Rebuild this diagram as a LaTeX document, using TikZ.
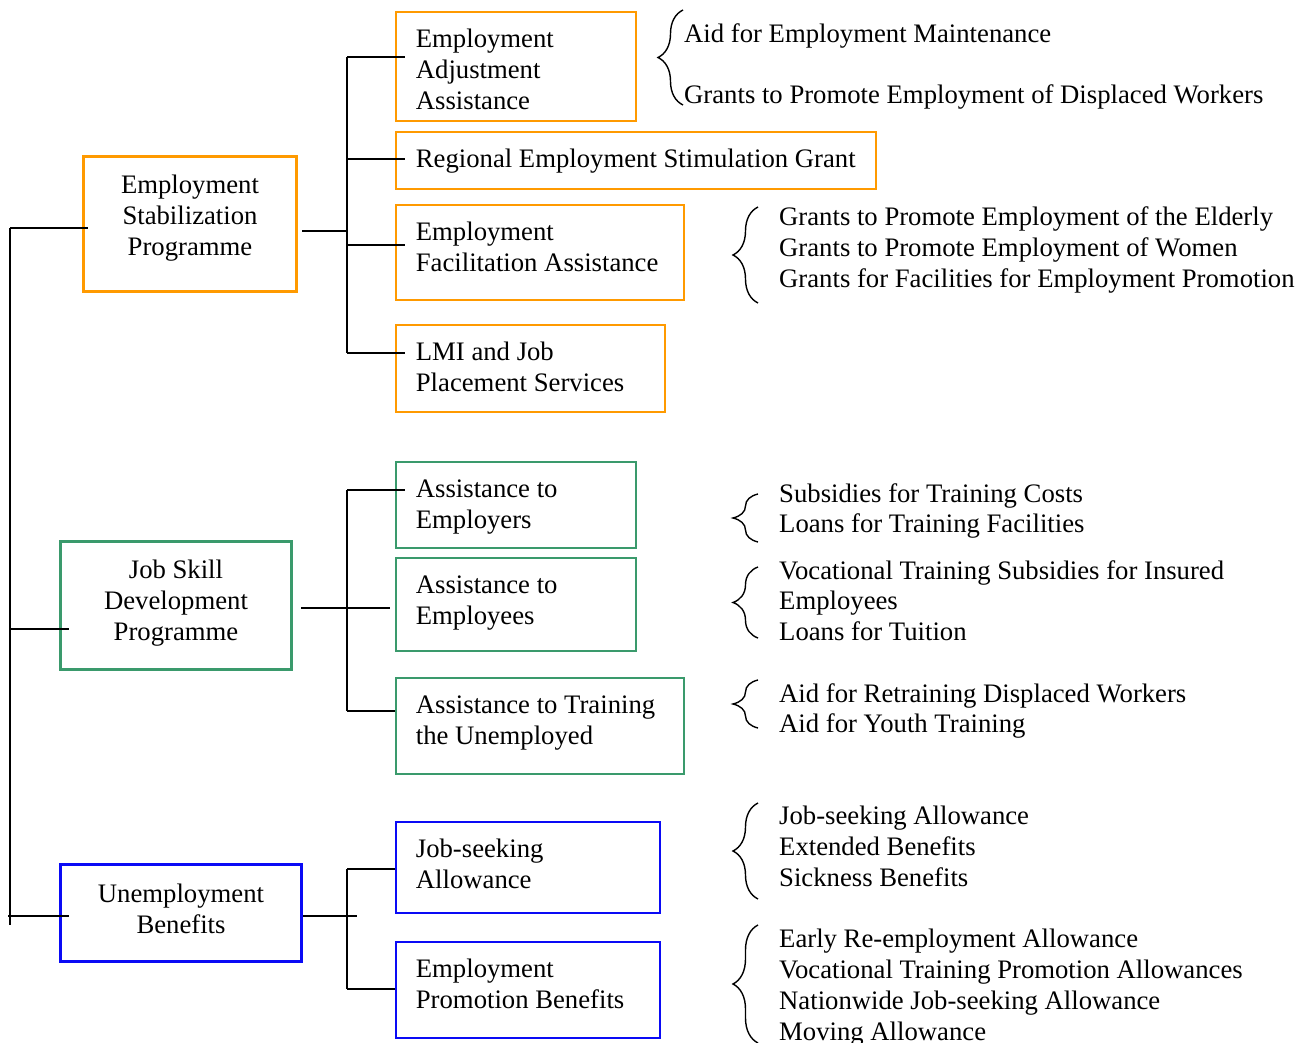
\documentclass[tikz,border=0pt]{standalone}
\usepackage{fontspec}
\setmainfont{Liberation Serif}
\usetikzlibrary{positioning,calc,decorations.pathreplacing}
\definecolor{orng}{HTML}{FF9A00}
\definecolor{grn}{HTML}{3A9A6C}
\definecolor{blu}{HTML}{0A0AF5}

\tikzset{
  prog/.style={draw=#1, line width=3pt, anchor=north west, align=center, inner sep=0pt, text height=37pt},
  sub/.style={draw=#1, line width=1.8pt, anchor=north west, align=left, inner xsep=20pt, inner ysep=0pt, text height=36pt},
  items/.style={anchor=north west, align=left, inner sep=0pt},
  grp/.style={decorate, decoration={brace, amplitude=25pt}, line width=1.4pt},
  wire/.style={line width=2pt},
}

\begin{document}
\begin{tikzpicture}[x=1pt,y=-1pt,font=\fontsize{26.7}{30.8}\selectfont,
    execute at begin node={\spaceskip=0pt\xspaceskip=0pt\relax}]

    \useasboundingbox (0,0) rectangle (1299,1043);

    % programmes
    \node[prog=orng, text width=213pt, text depth=98pt] (esp) at (82,155) {Employment\\Stabilization\\Programme};
    \node[prog=grn, text width=231pt, text depth=91pt] (jsd) at (59,540) {Job\hspace{0.25em}Skill\\Development\\Programme};
    \node[prog=blu, text width=241pt, text height=38pt, text depth=59pt] (ub) at (59,863) {Unemployment\\Benefits};

    % schemes
    \node[sub=orng, text width=200pt, text depth=73pt] (eaa) at (395,11) {Employment\\Adjustment\\Assistance};
    \node[sub=orng, text width=440pt, text depth=21pt] (resg) at (395,131) {\mbox{Regional Employment Stimulation Grant}};
    \node[sub=orng, text width=248pt, text depth=59pt] (efa) at (395,204) {Employment\\Facilitation Assistance};
    \node[sub=orng, text width=229pt, text depth=51pt] (lmi) at (395,324) {LMI and Job\\Placement Services};

    \node[sub=grn, text width=200pt, text depth=50pt] (atr) at (395,461) {Assistance to\\Employers};
    \node[sub=grn, text width=200pt, text depth=57pt] (ate) at (395,557) {Assistance to\\Employees};
    \node[sub=grn, text width=248pt, text depth=60pt] (atu) at (395,677) {Assistance to Training\\the Unemployed};

    \node[sub=blu, text width=224pt, text depth=55pt] (jsa) at (395,821) {Job-seeking\\Allowance};
    \node[sub=blu, text width=224pt, text depth=60pt] (epb) at (395,941) {Employment\\Promotion Benefits};

    % items
    \node[items] (gA) at (684,24) {Aid for Employment Maintenance\\[30pt]Grants to Promote Employment of Displaced Workers};
    \node[items] (gB) at (779,207) {Grants to Promote Employment of the Elderly\\Grants to Promote Employment of Women\\Grants for Facilities for Employment Promotion};
    \node[items] (gC) at (779,483) {Subsidies for Training Costs\\Loans for Training Facilities};
    \node[items] (gD) at (779,560) {Vocational Training Subsidies for Insured\\Employees\\Loans for Tuition};
    \node[items] (gE) at (779,683) {Aid for Retraining Displaced Workers\\Aid for Youth Training};
    \node[items] (gF) at (779,806) {Job-seeking Allowance\\Extended Benefits\\Sickness Benefits};
    \node[items] (gG) at (779,929) {Early Re-employment Allowance\\Vocational Training Promotion Allowances\\Nationwide Job-seeking Allowance\\Moving Allowance};

    \draw[grp] (683,105) -- (683,10);
    \draw[grp] (758,303) -- (758,207);
    \draw[grp] (758,542) -- (758,494);
    \draw[grp] (758,638) -- (758,567);
    \draw[grp] (758,728) -- (758,680);
    \draw[grp] (758,899) -- (758,803);
    \draw[grp] (758,1043) -- (758,925);

    % main trunk
    \coordinate (t0) at (10,228);
    \coordinate (t1) at (10,629);
    \coordinate (t2) at (10,916);
    \draw[wire] (t0) -- ([yshift=-9pt]t2);
    \draw[wire] (t0) -- ([xshift=6pt]t0 -| esp.west);
    \draw[wire] (t1) -- ([xshift=10pt]t1 -| jsd.west);
    \draw[wire] ([xshift=-2pt]t2) -- ([xshift=10pt]t2 -| ub.west);

    % employment stabilization
    \coordinate (ej) at (347,231);
    \coordinate (e0) at (347,57);
    \coordinate (e1) at (347,159);
    \coordinate (e2) at (347,245);
    \coordinate (e3) at (347,353);
    \draw[wire] ([xshift=4pt]ej -| esp.east) -- (ej);
    \draw[wire] (e0) -- (e3);
    \draw[wire] (e0) -- ([xshift=10pt]e0 -| eaa.west);
    \draw[wire] (e1) -- ([xshift=10pt]e1 -| resg.west);
    \draw[wire] (e2) -- ([xshift=10pt]e2 -| efa.west);
    \draw[wire] (e3) -- ([xshift=10pt]e3 -| lmi.west);

    % job skill development
    \coordinate (sj) at (347,608);
    \coordinate (s0) at (347,490);
    \coordinate (s1) at (347,711);
    \draw[wire] ([xshift=8pt]sj -| jsd.east) -- ([xshift=-5pt]sj -| ate.west);
    \draw[wire] (s0) -- (s1);
    \draw[wire] (s0) -- ([xshift=10pt]s0 -| atr.west);
    \draw[wire] (s1) -- (s1 -| atu.west);

    % unemployment benefits
    \coordinate (uj) at (357,916);
    \coordinate (u0) at (347,869);
    \coordinate (u1) at (347,989);
    \draw[wire] (uj -| ub.east) -- (uj);
    \draw[wire] (u0) -- (u1);
    \draw[wire] (u0) -- (u0 -| jsa.west);
    \draw[wire] (u1) -- (u1 -| epb.west);

\end{tikzpicture}
\end{document}
